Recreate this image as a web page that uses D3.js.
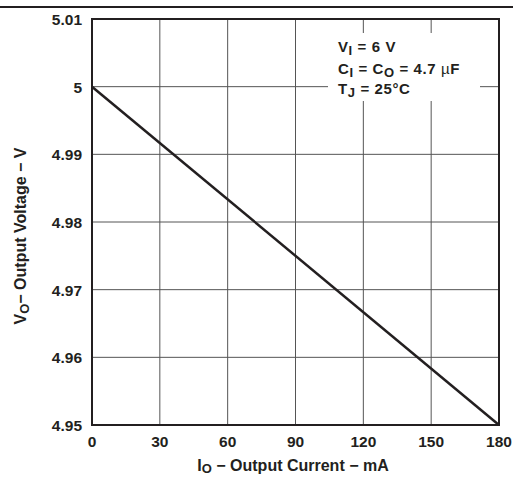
<!DOCTYPE html>
<html>
<head>
<meta charset="utf-8">
<script src="https://cdn.jsdelivr.net/npm/d3@7"></script>
<style>
  body { margin: 0; background: #fff; }
  text { font-family: "Liberation Sans", Arial, sans-serif; font-weight: bold; fill: #231f20; }
</style>
</head>
<body>
<svg id="chart"></svg>
<script>
// output current (mA) vs output voltage (V)
const currentMA = [0, 180]
const voltageV = [5.0, 4.95]
const xTicks = [0, 30, 60, 90, 120, 150, 180]
const yTicks = [4.95, 4.96, 4.97, 4.98, 4.99, 5, 5.01]

const width = 518, height = 477
const margin = { top: 19, right: 19, bottom: 52, left: 92 }

const svg = d3.select('#chart').attr('width', width).attr('height', height)

const x = d3.scaleLinear().domain([0, 180]).range([margin.left, width - margin.right])
const y = d3.scaleLinear().domain([4.95, 5.01]).range([height - margin.bottom, margin.top])

// rule across the top of the page
svg.append('line')
  .attr('x1', 0).attr('x2', 513).attr('y1', 7).attr('y2', 7)
  .attr('stroke', '#231f20').attr('stroke-width', 2)

// grid
svg.append('g').selectAll('line').data(xTicks.slice(1, -1)).join('line')
  .attr('x1', d => x(d)).attr('x2', d => x(d))
  .attr('y1', y.range()[1]).attr('y2', y.range()[0])
  .attr('stroke', '#555').attr('stroke-width', 1)
svg.append('g').selectAll('line').data(yTicks.slice(1, -1)).join('line')
  .attr('x1', x.range()[0]).attr('x2', x.range()[1])
  .attr('y1', d => y(d)).attr('y2', d => y(d))
  .attr('stroke', '#555').attr('stroke-width', 1)

// legend box blanks out grid
svg.append('rect')
  .attr('x', 328).attr('y', 33).attr('width', 152).attr('height', 68)
  .attr('fill', '#fff')

// frame
svg.append('rect')
  .attr('x', x.range()[0]).attr('y', y.range()[1])
  .attr('width', x.range()[1] - x.range()[0]).attr('height', y.range()[0] - y.range()[1])
  .attr('fill', 'none').attr('stroke', '#231f20').attr('stroke-width', 2)

// data line
svg.append('path')
  .datum(currentMA.map((c, i) => [c, voltageV[i]]))
  .attr('d', d3.line().x(d => x(d[0])).y(d => y(d[1])))
  .attr('fill', 'none').attr('stroke', '#231f20').attr('stroke-width', 2.5)

// tick labels
svg.append('g').selectAll('text').data(xTicks).join('text')
  .attr('x', d => x(d)).attr('y', 447)
  .attr('text-anchor', 'middle').attr('font-size', 15.5)
  .text(d => d)
svg.append('g').selectAll('text').data(yTicks).join('text')
  .attr('x', 82).attr('y', d => y(d) + 6)
  .attr('text-anchor', 'end').attr('font-size', 15.5)
  .text(d => d === 5 ? '5' : d3.format('.2f')(d))

// axis titles
const xt = svg.append('text')
  .attr('x', 293).attr('y', 471).attr('text-anchor', 'middle').attr('font-size', 16)
xt.append('tspan').text('I')
xt.append('tspan').attr('font-size', 13).attr('dy', 2).text('O')
xt.append('tspan').attr('dy', -2).text(' − Output Current − mA')

const yt = svg.append('text')
  .attr('transform', 'translate(26,236) rotate(-90)')
  .attr('text-anchor', 'middle').attr('font-size', 16)
yt.append('tspan').text('V')
yt.append('tspan').attr('font-size', 13).attr('dy', 3).text('O')
yt.append('tspan').attr('dy', -3).text('− Output Voltage − V')

// conditions
const cond = svg.append('g').attr('font-size', 15).attr('letter-spacing', 0.6)
const l1 = cond.append('text').attr('x', 338).attr('y', 52)
l1.append('tspan').text('V')
l1.append('tspan').attr('font-size', 13).attr('dy', 3).text('I')
l1.append('tspan').attr('dy', -3).text(' = 6 V')
const l2 = cond.append('text').attr('x', 338).attr('y', 74)
l2.append('tspan').text('C')
l2.append('tspan').attr('font-size', 13).attr('dy', 3).text('I')
l2.append('tspan').attr('dy', -3).text(' = C')
l2.append('tspan').attr('font-size', 13).attr('dy', 3).text('O')
l2.append('tspan').attr('dy', -3).text(' = 4.7 ')
l2.append('tspan').attr('font-weight', 'normal').text('µ')
l2.append('tspan').text('F')
const l3 = cond.append('text').attr('x', 338).attr('y', 94)
l3.append('tspan').text('T')
l3.append('tspan').attr('font-size', 13).attr('dy', 3).text('J')
l3.append('tspan').attr('dy', -3).text(' = 25°C')
</script>
</body>
</html>
